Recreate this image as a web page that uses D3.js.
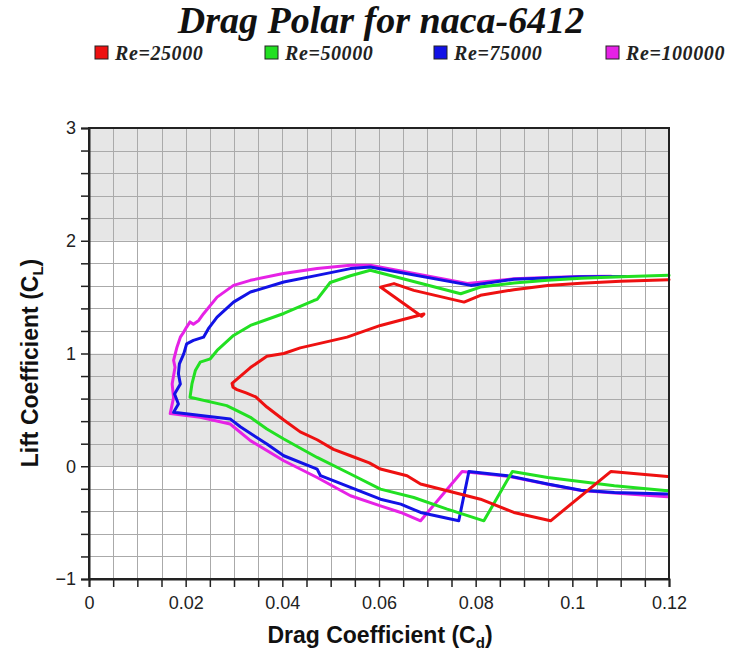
<!DOCTYPE html>
<html>
<head>
<meta charset="utf-8">
<script src="https://cdn.jsdelivr.net/npm/d3@7"></script>
<style>
  html, body { margin: 0; padding: 0; background: #fff; }
  svg { display: block; }
</style>
</head>
<body>
<svg id="chart" width="735" height="657"></svg>
<script>
// Drag polar of the NACA 6412 airfoil at four Reynolds numbers.
const seriesNames = ["Re=25000", "Re=50000", "Re=75000", "Re=100000"];
const seriesColors = ["#ee1111", "#22e022", "#1212e6", "#e622e6"];

// Re = 25000
const re25000Cd = [0.1197, 0.108, 0.0955, 0.0879, 0.081, 0.0741, 0.0686, 0.0658, 0.0603, 0.058, 0.0541, 0.0506, 0.0472, 0.0437, 0.0403, 0.0368, 0.0345, 0.0325, 0.0306, 0.0298, 0.0296,
  0.0334, 0.0368, 0.0403, 0.0437, 0.0534, 0.0603, 0.0693, 0.0688, 0.0603, 0.0631, 0.0672, 0.0776, 0.081, 0.0879, 0.0949, 0.1018, 0.110, 0.12];
const re25000Cl = [-0.091, -0.046, -0.484, -0.41, -0.292, -0.218, -0.158, -0.084, -0.025, 0.03, 0.093, 0.15, 0.235, 0.305, 0.41, 0.525, 0.615, 0.65, 0.68, 0.7, 0.735,
  0.875, 0.975, 1.0, 1.05, 1.145, 1.249, 1.35, 1.33, 1.589, 1.62, 1.56, 1.456, 1.516, 1.566, 1.604, 1.624, 1.64, 1.655];

// Re = 50000
const re50000Cd = [0.1197, 0.1087, 0.0949, 0.0876, 0.0817, 0.0741, 0.0672, 0.0603, 0.0541, 0.0472, 0.0403, 0.0368, 0.0334, 0.0306, 0.0285, 0.0209,
  0.0213, 0.022, 0.023, 0.0251, 0.0265, 0.0299, 0.0334, 0.0403, 0.0465, 0.0472, 0.0499, 0.0541, 0.0582, 0.0769, 0.081, 0.0879, 0.0949, 0.1018, 0.110, 0.12];
const re50000Cl = [-0.218, -0.173, -0.1, -0.046, -0.484, -0.38, -0.277, -0.203, -0.069, 0.078, 0.242, 0.33, 0.434, 0.493, 0.538, 0.612,
  0.73, 0.849, 0.923, 0.953, 1.027, 1.16, 1.249, 1.355, 1.47, 1.48, 1.63, 1.69, 1.738, 1.53, 1.589, 1.625, 1.65, 1.668, 1.68, 1.693];

// Re = 75000
const re75000Cd = [0.1197, 0.1087, 0.1018, 0.0949, 0.0866, 0.0786, 0.0765, 0.0686, 0.0645, 0.0603, 0.0541, 0.0479, 0.0472, 0.0403, 0.0368, 0.0313, 0.0292, 0.0175,
  0.0185, 0.0177, 0.0189, 0.0185, 0.0187, 0.0196, 0.0202, 0.0216, 0.0237, 0.0247, 0.0265, 0.0299, 0.0334, 0.0403, 0.0472, 0.0541, 0.0582, 0.079, 0.0879, 0.0949, 0.1018, 0.111];
const re75000Cl = [-0.247, -0.233, -0.212, -0.158, -0.084, -0.046, -0.484, -0.41, -0.336, -0.292, -0.188, -0.084, -0.025, 0.093, 0.197, 0.35, 0.42, 0.478,
  0.552, 0.641, 0.73, 0.82, 0.908, 0.997, 1.086, 1.116, 1.145, 1.22, 1.323, 1.456, 1.545, 1.634, 1.693, 1.753, 1.767, 1.604, 1.658, 1.67, 1.68, 1.684];

// Re = 100000
const re100000Cd = [0.1197, 0.1087, 0.1018, 0.0949, 0.0866, 0.0772, 0.0686, 0.0645, 0.0603, 0.0541, 0.0472, 0.0403, 0.0334, 0.0292, 0.023, 0.0168,
  0.0175, 0.0172, 0.0178, 0.0175, 0.0182, 0.0189, 0.0196, 0.0202, 0.0209, 0.0216, 0.0227, 0.0237, 0.0265, 0.0299, 0.0334, 0.0402, 0.0472, 0.0541, 0.0582, 0.0783, 0.0879, 0.0949, 0.1018, 0.108];
const re100000Cl = [-0.27, -0.238, -0.215, -0.16, -0.088, -0.046, -0.484, -0.41, -0.351, -0.262, -0.1, 0.049, 0.227, 0.375, 0.434, 0.467,
  0.61, 0.73, 0.878, 0.94, 1.056, 1.145, 1.19, 1.234, 1.28, 1.26, 1.293, 1.353, 1.5, 1.604, 1.649, 1.71, 1.753, 1.782, 1.782, 1.62, 1.662, 1.674, 1.682, 1.686];

const xTickValues = [0, 0.02, 0.04, 0.06, 0.08, 0.1, 0.12];
const xTickLabels = ["0", "0.02", "0.04", "0.06", "0.08", "0.1", "0.12"];
const yTickValues = [-1, 0, 1, 2, 3];
const yTickLabels = ["\u22121", "0", "1", "2", "3"];

const seriesCd = [re25000Cd, re50000Cd, re75000Cd, re100000Cd];
const seriesCl = [re25000Cl, re50000Cl, re75000Cl, re100000Cl];

const svg = d3.select("#chart");
const plot = { left: 89, right: 669, top: 128, bottom: 579 };

const x = d3.scaleLinear().domain([0, 0.12]).range([plot.left, plot.right]);
const y = d3.scaleLinear().domain([-1, 3]).range([plot.bottom, plot.top]);

// Alternating shaded bands
const bands = [[2, 3], [0, 1]];
svg.append("g").selectAll("rect").data(bands).join("rect")
  .attr("x", plot.left).attr("width", plot.right - plot.left)
  .attr("y", d => y(d[1])).attr("height", d => y(d[0]) - y(d[1]))
  .attr("fill", "#e6e6e6");

// Grid
const xMinor = d3.range(0, 0.12 + 1e-9, 0.005);
const yMinor = d3.range(-1, 3 + 1e-9, 0.2);
const grid = svg.append("g").attr("stroke", "#aaaaaa").attr("stroke-width", 1);
grid.selectAll(".gx").data(xMinor.slice(1, -1)).join("line")
  .attr("x1", d => Math.round(x(d)) + 0.5).attr("x2", d => Math.round(x(d)) + 0.5)
  .attr("y1", plot.top).attr("y2", plot.bottom);
grid.selectAll(".gy").data(yMinor.slice(1, -1)).join("line")
  .attr("y1", d => Math.round(y(d)) + 0.5).attr("y2", d => Math.round(y(d)) + 0.5)
  .attr("x1", plot.left).attr("x2", plot.right);

// Polar curves, highest Reynolds number underneath
const line = d3.line().x(d => x(d[0])).y(d => y(d[1]));
const order = [3, 2, 1, 0];
svg.append("g").selectAll("path").data(order).join("path")
  .attr("d", i => line(d3.zip(seriesCd[i], seriesCl[i])))
  .attr("fill", "none")
  .attr("stroke", i => seriesColors[i])
  .attr("stroke-width", 3)
  .attr("stroke-linejoin", "round")
  .attr("stroke-linecap", "round");

// Frame
svg.append("rect")
  .attr("x", plot.left).attr("y", plot.top)
  .attr("width", plot.right - plot.left).attr("height", plot.bottom - plot.top)
  .attr("fill", "none").attr("stroke", "#222").attr("stroke-width", 2);

// Axes
const tickFont = "Liberation Sans, Arial, sans-serif";
const xAxis = svg.append("g").attr("transform", `translate(0,${plot.bottom})`)
  .call(d3.axisBottom(x).tickValues(xMinor).tickSize(8)
    .tickFormat(d => { const k = xTickValues.findIndex(v => Math.abs(v - d) < 1e-9); return k >= 0 ? xTickLabels[k] : ""; }));
const yAxis = svg.append("g").attr("transform", `translate(${plot.left},0)`)
  .call(d3.axisLeft(y).tickValues(yMinor).tickSize(8).tickPadding(5)
    .tickFormat(d => { const k = yTickValues.findIndex(v => Math.abs(v - d) < 1e-9); return k >= 0 ? yTickLabels[k] : ""; }));
[xAxis, yAxis].forEach(a => {
  a.select(".domain").attr("stroke", "#222").attr("stroke-width", 2);
  a.selectAll(".tick line").attr("stroke", "#222").attr("stroke-width", 1.5);
  a.selectAll(".tick text").attr("fill", "#222").style("font-family", tickFont).style("font-size", "18px");
});
xAxis.selectAll(".tick text").attr("dy", "1.05em");

// Axis titles
const xTitle = svg.append("text")
  .attr("x", 380).attr("y", 643).attr("text-anchor", "middle")
  .style("font-family", tickFont).style("font-weight", "bold").style("font-size", "23px").attr("fill", "#111");
xTitle.append("tspan").text("Drag Coefficient (C");
xTitle.append("tspan").text("d").style("font-size", "15px").attr("dy", 5);
xTitle.append("tspan").text(")").attr("dy", -5);

const yTitle = svg.append("text")
  .attr("transform", "translate(38,363) rotate(-90)").attr("text-anchor", "middle")
  .style("font-family", tickFont).style("font-weight", "bold").style("font-size", "23px").attr("fill", "#111");
yTitle.append("tspan").text("Lift Coefficient (C");
yTitle.append("tspan").text("L").style("font-size", "15px").attr("dy", 5);
yTitle.append("tspan").text(")").attr("dy", -5);

// Title
svg.append("text")
  .attr("x", 381).attr("y", 33).attr("text-anchor", "middle")
  .style("font-family", "Liberation Serif, Times New Roman, serif")
  .style("font-style", "italic").style("font-weight", "bold").style("font-size", "38px")
  .attr("fill", "#111").text("Drag Polar for naca-6412");

// Legend
const legendX = [95, 265, 434, 606];
const legend = svg.append("g").selectAll("g").data(seriesNames).join("g")
  .attr("transform", (d, i) => `translate(${legendX[i]},46)`);
legend.append("rect").attr("width", 13).attr("height", 13)
  .attr("fill", (d, i) => seriesColors[i]).attr("stroke", "#222").attr("stroke-width", 1);
legend.append("text").attr("x", 20).attr("y", 14)
  .style("font-family", "Liberation Serif, Times New Roman, serif")
  .style("font-style", "italic").style("font-weight", "bold").style("font-size", "20px")
  .style("letter-spacing", "0.6px")
  .attr("fill", "#222").text(d => d);
</script>
</body>
</html>
